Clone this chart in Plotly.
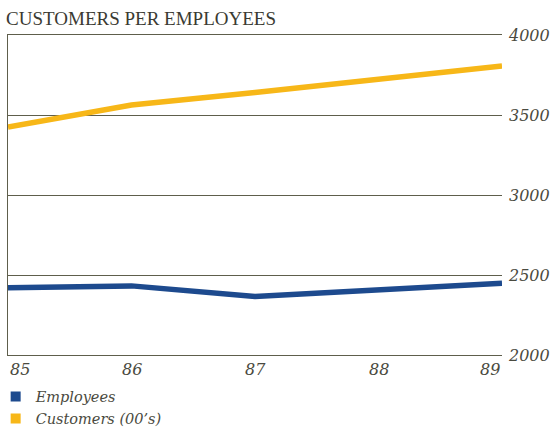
import plotly.graph_objects as go

# Year axis and series values
years = [85, 86, 87, 88, 89]
year_labels = ["85", "86", "87", "88", "89"]
employees = [2420, 2432, 2365, 2405, 2448]
customers_00s = [3425, 3562, 3640, 3722, 3806]
y_ticks = [2000, 2500, 3000, 3500, 4000]
y_tick_labels = ["2000", "2500", "3000", "3500", "4000"]

BLUE = "#1d4a8e"
GOLD = "#f7b718"
GRID = "#5e5e4c"
TEXT = "#4a4a40"
SERIF = "Liberation Serif"
ITALIC_SERIF = "DejaVu Serif"


def ital(s):
    return f"<i>{s}</i>"


fig = go.Figure()

fig.add_trace(go.Scatter(x=years, y=customers_00s, mode="lines",
                         line=dict(color=GOLD, width=5.5), showlegend=False))
fig.add_trace(go.Scatter(x=years, y=employees, mode="lines",
                         line=dict(color=BLUE, width=5.5), showlegend=False))

# Square legend swatches
fig.add_trace(go.Scatter(x=[None], y=[None], mode="markers", name=ital("Employees"),
                         marker=dict(symbol="square", size=10, color=BLUE)))
fig.add_trace(go.Scatter(x=[None], y=[None], mode="markers", name=ital("Customers (00’s)"),
                         marker=dict(symbol="square", size=10, color=GOLD)))

# Left frame edge via an empty overlaying axis
fig.add_trace(go.Scatter(x=[None], y=[None], yaxis="y2", showlegend=False))

# Year labels below the plot; end labels kept inside the frame
for yr, lab in zip(years, year_labels):
    anchor = "left" if yr == years[0] else ("right" if yr == years[-1] else "center")
    fig.add_annotation(x=yr, y=0, xref="x", yref="paper", text=ital(lab),
                       showarrow=False, xanchor=anchor, yanchor="top", yshift=-3,
                       font=dict(family=ITALIC_SERIF, size=16, color=TEXT))

fig.update_layout(
    width=554, height=430,
    margin=dict(l=8, r=52, t=35, b=75, autoexpand=False),
    paper_bgcolor="white", plot_bgcolor="white",
    title=dict(text="CUSTOMERS PER EMPLOYEES", x=0.011, xanchor="left",
               y=0.958, yanchor="middle",
               font=dict(family=SERIF, size=19, color="#3a3a32")),
    xaxis=dict(range=[85, 89], showgrid=False, zeroline=False, showline=True,
               mirror=True, linecolor=GRID, linewidth=1.3,
               showticklabels=False, ticks=""),
    yaxis=dict(range=[2000, 4000], side="right", tickvals=y_ticks,
               ticktext=[ital(t) for t in y_tick_labels],
               showgrid=True, gridcolor=GRID, gridwidth=1.3, zeroline=False,
               showline=False, ticks="", ticklabelstandoff=6,
               tickfont=dict(family=ITALIC_SERIF, size=16, color=TEXT)),
    yaxis2=dict(range=[2000, 4000], overlaying="y", side="left", showgrid=False,
                zeroline=False, showline=True, linecolor=GRID, linewidth=1.3,
                showticklabels=False, ticks=""),
    legend=dict(x=-0.025, y=-0.08, xanchor="left", yanchor="top",
                bgcolor="rgba(0,0,0,0)", tracegroupgap=0, itemwidth=30,
                font=dict(family=ITALIC_SERIF, size=14.5, color=TEXT)),
    showlegend=True,
)

fig.write_html("out.html")
